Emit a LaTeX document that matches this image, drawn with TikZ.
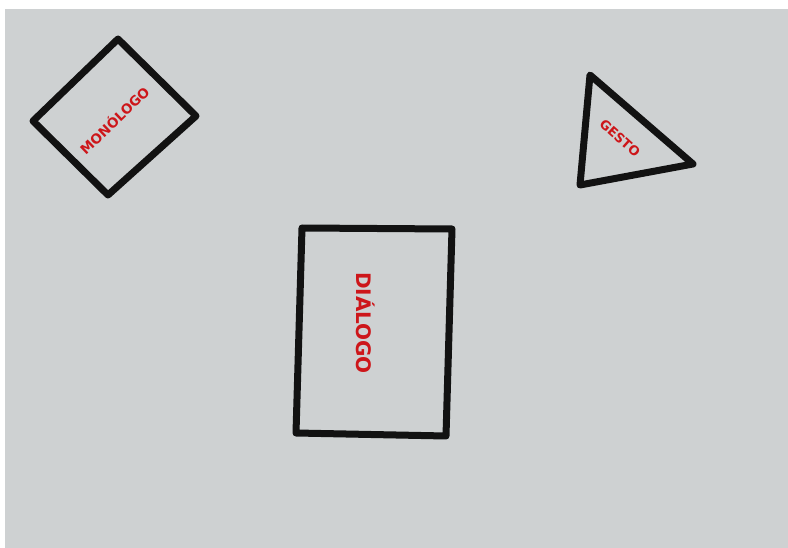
\documentclass[tikz,border=0pt]{standalone}
\usepackage{fontspec}
\setmainfont{DejaVu Sans}
\definecolor{paper}{RGB}{206,209,210}
\definecolor{ink}{RGB}{18,18,18}
\definecolor{redink}{RGB}{205,22,26}
\tikzset{
  shapeline/.style={draw=ink, line width=7pt, line join=round, line cap=round},
  lbl/.style={text=redink, inner sep=0pt}
}
\begin{document}
\begin{tikzpicture}[x=1pt,y=-1pt]
\useasboundingbox (0,0) rectangle (788,548);
\fill[white] (0,0) rectangle (788,548);
\fill[paper] (5,9) rectangle (788,548);
% diamond (monologo)
\coordinate (d1) at (118,39);
\coordinate (d2) at (196,116);
\coordinate (d3) at (108,195);
\coordinate (d4) at (33,121);
\draw[shapeline] (d1) -- (d2) -- (d3) -- (d4) -- cycle;
\node[lbl, rotate=44, font=\bfseries\fontsize{13.5}{13.5}\selectfont] (mono) at (114,120) {MONÓLOGO};
% triangle (gesto)
\coordinate (t1) at (590,75);
\coordinate (t2) at (693,164);
\coordinate (t3) at (580,185);
\draw[shapeline] (t1) -- (t2) -- (t3) -- cycle;
\node[lbl, rotate=-42, font=\bfseries\fontsize{13}{13}\selectfont] (gesto) at (620,138) {GESTO};
% rectangle (dialogo)
\coordinate (r1) at (302,228);
\coordinate (r2) at (452,229);
\coordinate (r3) at (446,436);
\coordinate (r4) at (296,433);
\draw[shapeline] (r1) -- (r2) -- (r3) -- (r4) -- cycle;
\node[lbl, rotate=-90, font=\bfseries\fontsize{20}{20}\selectfont] (dia) at (366,323) {DIÁLOGO};
\end{tikzpicture}
\end{document}
